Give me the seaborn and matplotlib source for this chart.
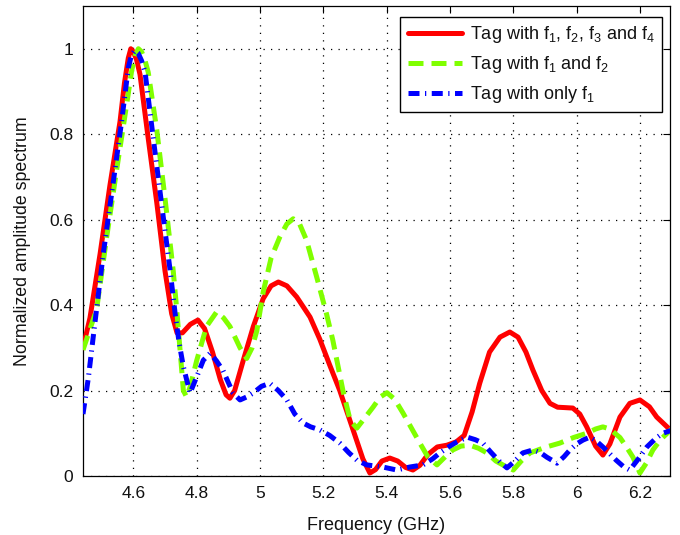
import matplotlib
matplotlib.use("Agg")
import matplotlib.pyplot as plt
import seaborn as sns
from matplotlib.ticker import FuncFormatter, MultipleLocator

# Normalized amplitude spectra of the three tag configurations (frequency in GHz)
freq_f1234 = [4.441, 4.463, 4.495, 4.526, 4.558, 4.572, 4.584, 4.592, 4.600, 4.610,
              4.621, 4.647, 4.674, 4.700, 4.721, 4.738, 4.755, 4.780, 4.804, 4.825,
              4.850, 4.875, 4.893, 4.905, 4.920, 4.947, 4.979, 5.010, 5.035, 5.058,
              5.085, 5.116, 5.158, 5.189, 5.220, 5.252, 5.294, 5.325, 5.347, 5.365,
              5.385, 5.410, 5.435, 5.460, 5.483, 5.505, 5.530, 5.560, 5.590, 5.620,
              5.645, 5.670, 5.694, 5.725, 5.758, 5.789, 5.815, 5.840, 5.862, 5.890,
              5.916, 5.940, 5.965, 5.988, 6.010, 6.032, 6.060, 6.083, 6.105, 6.137,
              6.168, 6.200, 6.230, 6.253, 6.300]
amp_f1234 = [0.300, 0.370, 0.520, 0.680, 0.830, 0.920, 0.978, 1.000, 0.993, 0.975,
             0.940, 0.790, 0.640, 0.480, 0.380, 0.335, 0.335, 0.355, 0.365, 0.345,
             0.290, 0.225, 0.190, 0.182, 0.200, 0.270, 0.350, 0.415, 0.445, 0.454,
             0.445, 0.419, 0.372, 0.320, 0.260, 0.200, 0.108, 0.040, 0.007, 0.015,
             0.035, 0.042, 0.035, 0.020, 0.014, 0.025, 0.050, 0.068, 0.072, 0.080,
             0.095, 0.150, 0.217, 0.290, 0.325, 0.337, 0.325, 0.290, 0.248, 0.200,
             0.170, 0.161, 0.160, 0.159, 0.145, 0.115, 0.070, 0.049, 0.075, 0.138,
             0.170, 0.178, 0.162, 0.138, 0.105]

freq_f12 = [4.441, 4.484, 4.516, 4.547, 4.579, 4.595, 4.606, 4.616, 4.626, 4.636,
            4.647, 4.674, 4.700, 4.726, 4.737, 4.747, 4.758, 4.768, 4.780, 4.800,
            4.831, 4.863, 4.885, 4.905, 4.937, 4.958, 4.975, 4.990, 5.010, 5.035,
            5.063, 5.085, 5.105, 5.125, 5.147, 5.179, 5.210, 5.230, 5.262, 5.285,
            5.306, 5.330, 5.357, 5.380, 5.401, 5.425, 5.452, 5.480, 5.505, 5.530,
            5.559, 5.585, 5.609, 5.635, 5.663, 5.690, 5.717, 5.745, 5.767, 5.800,
            5.825, 5.853, 5.900, 5.947, 5.990, 6.032, 6.060, 6.083, 6.105, 6.137,
            6.160, 6.178, 6.200, 6.220, 6.241, 6.265, 6.300]
amp_f12 = [0.295, 0.390, 0.560, 0.715, 0.870, 0.950, 0.985, 1.000, 0.993, 0.975,
           0.945, 0.810, 0.650, 0.480, 0.390, 0.300, 0.200, 0.185, 0.210, 0.270,
           0.350, 0.384, 0.370, 0.350, 0.300, 0.275, 0.300, 0.340, 0.430, 0.510,
           0.560, 0.590, 0.602, 0.590, 0.552, 0.466, 0.380, 0.318, 0.200, 0.130,
           0.112, 0.135, 0.161, 0.185, 0.195, 0.180, 0.147, 0.110, 0.077, 0.045,
           0.026, 0.045, 0.061, 0.070, 0.072, 0.065, 0.054, 0.035, 0.026, 0.014,
           0.035, 0.054, 0.067, 0.077, 0.090, 0.100, 0.110, 0.115, 0.110, 0.090,
           0.065, 0.044, 0.007, 0.030, 0.061, 0.085, 0.110]

freq_f1 = [4.441, 4.458, 4.474, 4.505, 4.537, 4.563, 4.584, 4.594, 4.605, 4.615,
           4.626, 4.637, 4.663, 4.689, 4.716, 4.732, 4.745, 4.758, 4.779, 4.800,
           4.821, 4.842, 4.862, 4.883, 4.915, 4.937, 4.958, 4.978, 5.005, 5.031,
           5.058, 5.085, 5.110, 5.136, 5.160, 5.189, 5.220, 5.252, 5.280, 5.306,
           5.337, 5.388, 5.432, 5.473, 5.515, 5.545, 5.568, 5.600, 5.622, 5.654,
           5.680, 5.704, 5.730, 5.758, 5.780, 5.805, 5.830, 5.862, 5.885, 5.906,
           5.938, 5.960, 5.979, 6.000, 6.020, 6.042, 6.062, 6.083, 6.105, 6.125,
           6.148, 6.168, 6.195, 6.222, 6.250, 6.272, 6.300]
amp_f1 = [0.145, 0.230, 0.330, 0.520, 0.690, 0.830, 0.955, 0.985, 0.996, 0.990,
          0.972, 0.945, 0.790, 0.638, 0.482, 0.380, 0.310, 0.256, 0.194, 0.232,
          0.271, 0.287, 0.270, 0.247, 0.194, 0.178, 0.185, 0.194, 0.210, 0.217,
          0.200, 0.178, 0.145, 0.124, 0.115, 0.108, 0.095, 0.077, 0.055, 0.037,
          0.026, 0.021, 0.014, 0.021, 0.026, 0.040, 0.054, 0.070, 0.080, 0.091,
          0.085, 0.077, 0.055, 0.033, 0.019, 0.035, 0.054, 0.061, 0.055, 0.044,
          0.030, 0.045, 0.061, 0.075, 0.084, 0.091, 0.082, 0.068, 0.052, 0.037,
          0.022, 0.014, 0.040, 0.068, 0.088, 0.100, 0.107]

labels = [r"Tag with f$_1$, f$_2$, f$_3$ and f$_4$",
          r"Tag with f$_1$ and f$_2$",
          r"Tag with only f$_1$"]

sns.set_theme(style="white")
plt.rcParams.update({
    "mathtext.fontset": "custom",
    "mathtext.rm": "Liberation Sans",
    "mathtext.it": "Liberation Sans",
    "mathtext.default": "regular",
    "axes.edgecolor": "black",
    "axes.linewidth": 0.9,
    "text.color": "#111111",
    "axes.labelcolor": "#111111",
    "xtick.color": "black",
    "ytick.color": "black",
    "xtick.labelcolor": "#111111",
    "ytick.labelcolor": "#111111",
})
plt.rcParams["font.family"] = ["Liberation Sans", "DejaVu Sans"]

fig = plt.figure(figsize=(6.8, 5.35), dpi=100)
ax = fig.add_axes([83 / 680, 1 - 476 / 535, 587 / 680, 470 / 535])

sns.lineplot(x=freq_f1234, y=amp_f1234, ax=ax, color="#ff0000", linewidth=3.6,
             estimator=None, sort=False, label=labels[0], zorder=3)
sns.lineplot(x=freq_f12, y=amp_f12, ax=ax, color="#80ff00", linewidth=3.6,
             linestyle=(0, (3, 1.6)), estimator=None, sort=False,
             label=labels[1], zorder=4)
sns.lineplot(x=freq_f1, y=amp_f1, ax=ax, color="#0000ff", linewidth=3.6,
             linestyle=(0, (2.2, 1.1, 0.25, 1.1)), estimator=None, sort=False,
             label=labels[2], zorder=5)

ax.set_xlim(4.441, 6.295)
ax.set_ylim(0, 1.1)
ax.xaxis.set_major_locator(MultipleLocator(0.2))
ax.yaxis.set_major_locator(MultipleLocator(0.2))
fmt = FuncFormatter(lambda v, pos: "%g" % round(v, 3))
ax.xaxis.set_major_formatter(fmt)
ax.yaxis.set_major_formatter(fmt)

ax.grid(True, color="black", linestyle=(0, (1, 5)), linewidth=0.9)
ax.set_axisbelow(True)
ax.tick_params(direction="in", top=True, right=True, length=5, width=0.8,
               labelsize=12.5, pad=7)
for s in ax.spines.values():
    s.set_visible(True)
    s.set_color("black")

ax.set_xlabel("Frequency (GHz)", fontsize=13, labelpad=12)
ax.set_ylabel("Normalized amplitude spectrum", fontsize=12.8, labelpad=13)

leg = ax.legend(loc="upper right", bbox_to_anchor=(0.9864, 0.9766),
                borderaxespad=0, fontsize=13, frameon=True, fancybox=False,
                framealpha=1, edgecolor="black", handlelength=3.0,
                handletextpad=0.45, labelspacing=0.5, borderpad=0.4)
leg.get_frame().set_linewidth(1.0)

fig.savefig("out.png", dpi=100)
